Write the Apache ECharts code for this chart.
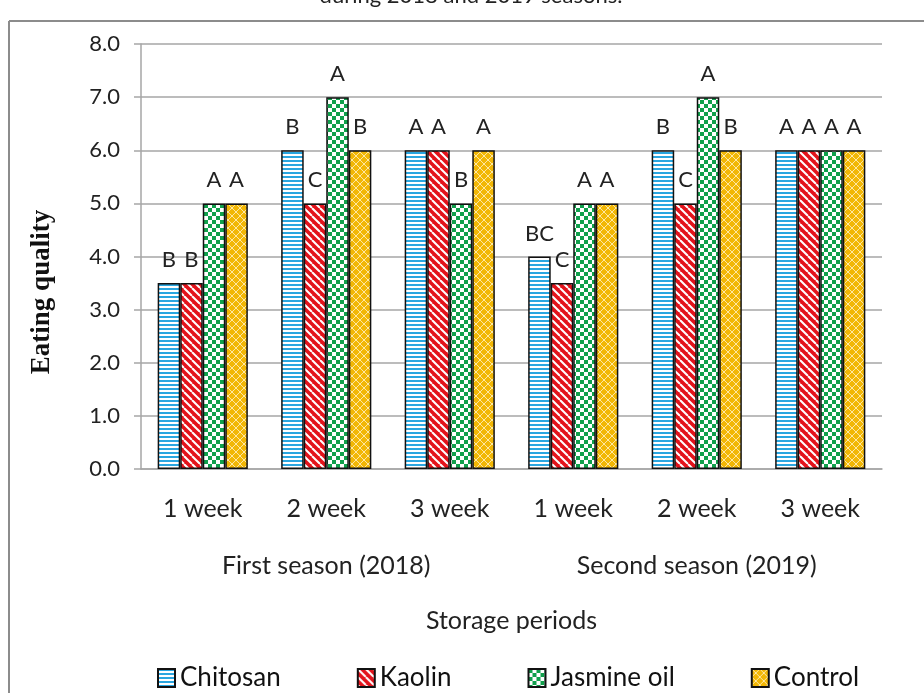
<!DOCTYPE html>
<html>
<head>
<meta charset="utf-8">
<script src="https://cdn.jsdelivr.net/npm/echarts@6/dist/echarts.min.js"></script>
<style>
  html, body { margin: 0; padding: 0; background: #fff; }
  #chart { width: 924px; height: 693px; }
</style>
</head>
<body>
<div id="chart"></div>
<script>
// Categories
const weeks = ['1 week', '2 week', '3 week', '1 week', '2 week', '3 week'];
const seasons = ['First season (2018)', 'Second season (2019)'];
const yTicks = [0, 1, 2, 3, 4, 5, 6, 7, 8];

// Series values (eating quality score)
const chitosan = [3.5, 6, 6, 4, 6, 6];
const kaolin = [3.5, 5, 6, 3.5, 5, 6];
const jasmine = [5, 7, 5, 5, 7, 6];
const control = [5, 6, 6, 5, 6, 6];

// Significance letters over each bar
const chitosanLetters = ['B', 'B', 'A', 'BC', 'B', 'A'];
const kaolinLetters = ['B', 'C', 'A', 'C', 'C', 'A'];
const jasmineLetters = ['A', 'A', 'B', 'A', 'A', 'A'];
const controlLetters = ['A', 'B', 'A', 'A', 'B', 'A'];

const SANS = 'Lato, "Liberation Sans", sans-serif';
const GRAY = '#a6a6a6';

/**
 * Builds a small canvas tile used as a repeating bar fill.
 */
function makePattern(kind) {
    const c = document.createElement('canvas');
    c.width = 8;
    c.height = 8;
    const ctx = c.getContext('2d');
    if (kind === 'stripes') {
        ctx.fillStyle = '#ffffff';
        ctx.fillRect(0, 0, 8, 8);
        ctx.fillStyle = '#2aa6e0';
        ctx.fillRect(0, 0, 8, 2);
        ctx.fillRect(0, 4, 8, 2);
    } else if (kind === 'diagonal') {
        ctx.fillStyle = '#e3131b';
        ctx.fillRect(0, 0, 8, 8);
        ctx.strokeStyle = '#ffffff';
        ctx.lineWidth = 2;
        [-8, 0, 8].forEach(off => {
            ctx.beginPath();
            ctx.moveTo(off, 0);
            ctx.lineTo(off + 8, 8);
            ctx.stroke();
        });
    } else if (kind === 'checker') {
        ctx.fillStyle = '#ffffff';
        ctx.fillRect(0, 0, 8, 8);
        ctx.fillStyle = '#10a04c';
        ctx.fillRect(0, 0, 4, 4);
        ctx.fillRect(4, 4, 4, 4);
    } else {
        ctx.fillStyle = '#f2b705';
        ctx.fillRect(0, 0, 8, 8);
        ctx.strokeStyle = 'rgba(255,240,190,0.85)';
        ctx.lineWidth = 1;
        [-8, 0, 8].forEach(off => {
            ctx.beginPath();
            ctx.moveTo(off, 0);
            ctx.lineTo(off + 8, 8);
            ctx.stroke();
            ctx.beginPath();
            ctx.moveTo(off + 8, 0);
            ctx.lineTo(off, 8);
            ctx.stroke();
        });
    }
    return { image: c, repeat: 'repeat' };
}

function barSeries(name, values, letters, pattern) {
    return {
        name: name,
        type: 'bar',
        data: values,
        barGap: '0%',
        barCategoryGap: '27%',
        itemStyle: {
            color: makePattern(pattern),
            borderColor: '#111',
            borderWidth: 1.5
        },
        label: {
            show: true,
            position: 'top',
            distance: 12,
            fontFamily: SANS,
            fontSize: 22,
            color: '#222',
            formatter: p => letters[p.dataIndex]
        }
    };
}

const chart = echarts.init(document.getElementById('chart'));

const option = {
    animation: false,
    backgroundColor: '#fff',
    grid: { left: 141, right: 42, top: 44, bottom: 224 },
    legend: {
        left: 152,
        top: 660,
        itemGap: 76,
        itemWidth: 17,
        itemHeight: 18,
        icon: 'rect',
        textStyle: { fontFamily: SANS, fontSize: 26, color: '#111' },
        data: ['Chitosan', 'Kaolin', 'Jasmine oil', 'Control']
    },
    xAxis: [
        {
            type: 'category',
            data: weeks,
            axisLine: { lineStyle: { color: GRAY, width: 1.5 } },
            axisTick: { length: 58, interval: 0, lineStyle: { color: GRAY, width: 1.5 } },
            axisLabel: { margin: 27, fontFamily: SANS, fontSize: 25, color: '#222', interval: 0 }
        },
        {
            type: 'category',
            data: seasons,
            position: 'bottom',
            offset: 58,
            axisLine: { show: false },
            axisTick: { length: 56, interval: 0, lineStyle: { color: GRAY, width: 1.5 } },
            axisLabel: { margin: 26, fontFamily: SANS, fontSize: 25, color: '#222', interval: 0 }
        },
        {
            type: 'category',
            data: ['Storage periods'],
            position: 'bottom',
            offset: 114,
            axisLine: { show: false },
            axisTick: { length: 56, interval: 0, lineStyle: { color: GRAY, width: 1.5 } },
            axisLabel: { margin: 25, fontFamily: SANS, fontSize: 25, color: '#222' }
        }
    ],
    yAxis: {
        type: 'value',
        min: yTicks[0],
        max: yTicks[yTicks.length - 1],
        interval: 1,
        axisLine: { show: true, lineStyle: { color: GRAY, width: 1.5 } },
        axisTick: { show: true, length: 7, lineStyle: { color: GRAY, width: 1.5 } },
        splitLine: { lineStyle: { color: GRAY, width: 1.5 } },
        axisLabel: {
            margin: 21,
            fontFamily: SANS,
            fontSize: 22,
            color: '#222',
            formatter: v => v.toFixed(1)
        }
    },
    series: [
        barSeries('Chitosan', chitosan, chitosanLetters, 'stripes'),
        barSeries('Kaolin', kaolin, kaolinLetters, 'diagonal'),
        barSeries('Jasmine oil', jasmine, jasmineLetters, 'checker'),
        barSeries('Control', control, controlLetters, 'lattice')
    ],
    graphic: [
        // frame of the original figure box
        { type: 'line', shape: { x1: 9, y1: 21, x2: 924, y2: 21 }, style: { stroke: '#8c8c8c', lineWidth: 2 } },
        { type: 'line', shape: { x1: 9, y1: 21, x2: 9, y2: 693 }, style: { stroke: '#8c8c8c', lineWidth: 2 } },
        // caption cut off at the top
        {
            type: 'text', x: 471, y: -4,
            style: {
                text: 'during 2018 and 2019 seasons.',
                font: '22px ' + SANS,
                fill: '#222',
                align: 'center',
                verticalAlign: 'middle'
            }
        },
        // y-axis title
        {
            type: 'text', x: 42, y: 292, rotation: Math.PI / 2,
            style: {
                text: 'Eating quality',
                font: 'bold 27px "Liberation Serif", "Times New Roman", serif',
                fill: '#111',
                align: 'center',
                verticalAlign: 'middle'
            }
        }
    ]
};

chart.setOption(option);
</script>
</body>
</html>
